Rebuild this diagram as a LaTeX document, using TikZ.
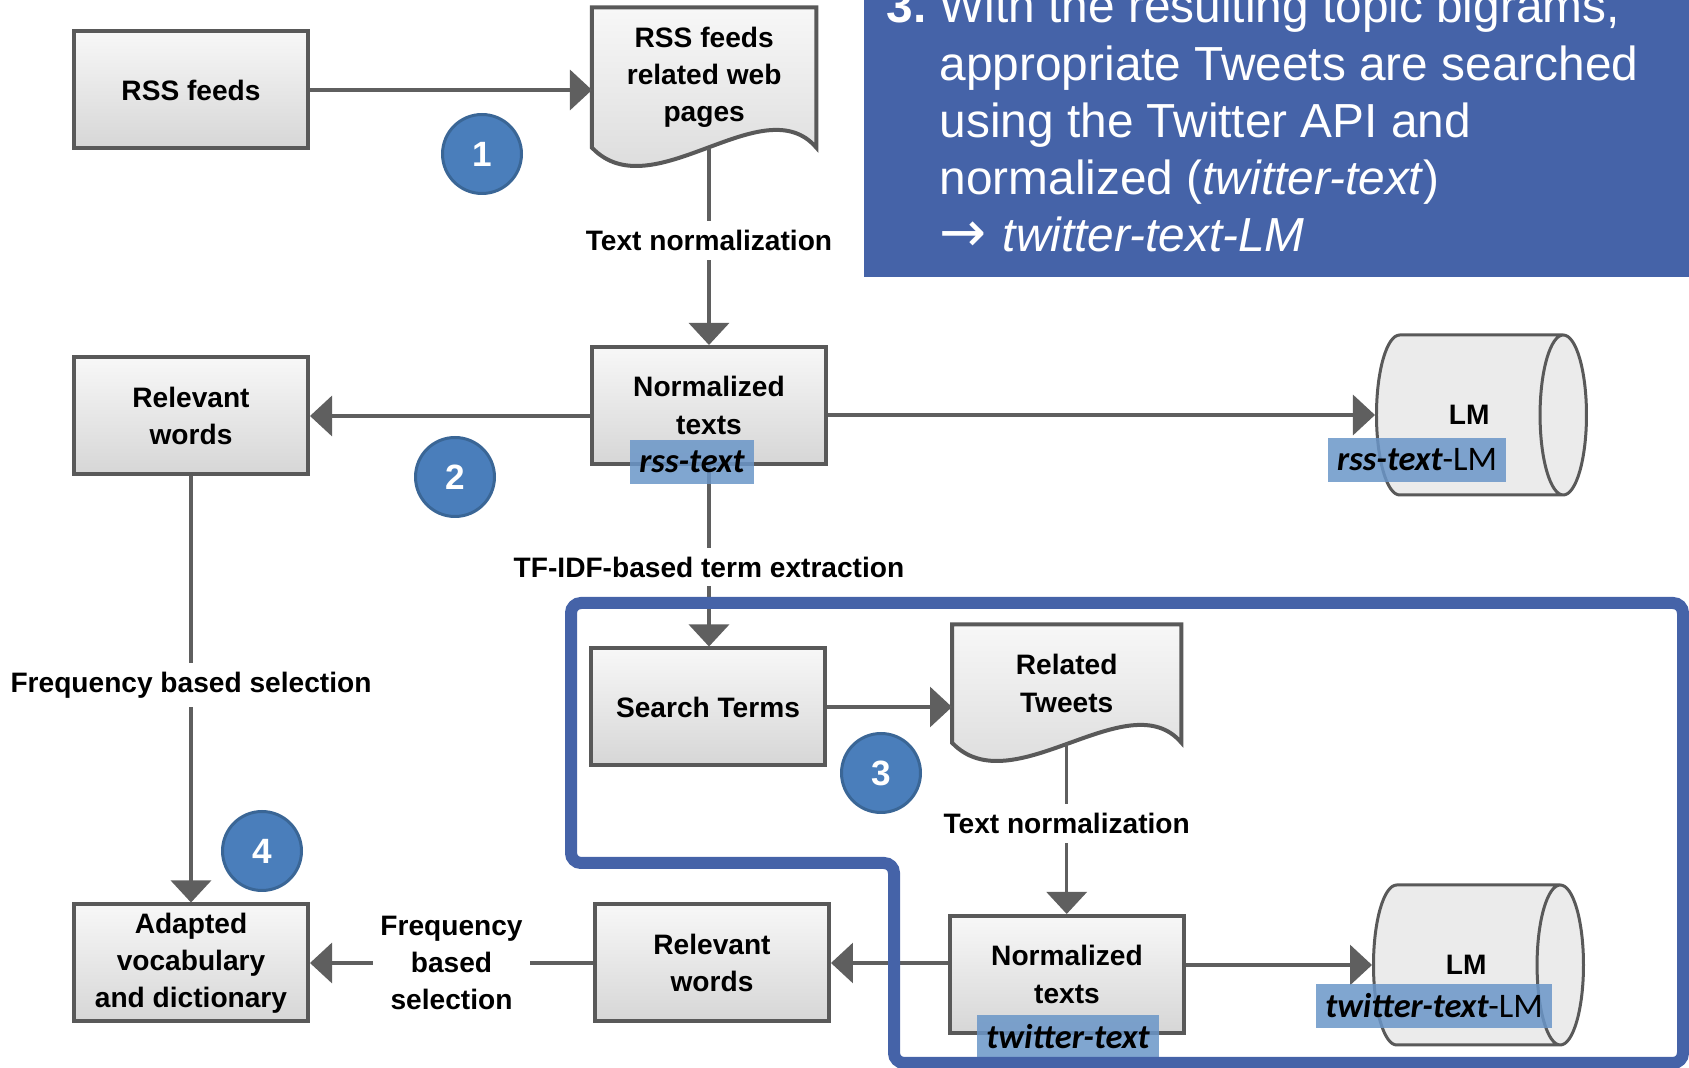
\documentclass[tikz,border=0pt]{standalone}
\usepackage{fontspec}
\setmainfont{Liberation Sans}
\newfontfamily\tagfont{Carlito}
\newfontfamily\arrowfont{DejaVu Sans}
\usetikzlibrary{positioning, shapes.geometric, arrows.meta, backgrounds}

\definecolor{boxline}{HTML}{595959}
\definecolor{flowgray}{HTML}{5F5F5F}
\definecolor{stepblue}{HTML}{4A7EBB}
\definecolor{stepedge}{HTML}{3A6696}
\definecolor{tagblue}{HTML}{6A96C8}
\definecolor{infoblue}{HTML}{4563A8}

\begin{document}
\begin{tikzpicture}[
  x=0.1mm, y=-0.1mm,
  font=\fontsize{8}{10.6}\selectfont\bfseries,
  proc/.style    ={rectangle, draw=boxline, line width=0.4mm,
                   top color=black!3, bottom color=black!16,
                   minimum width=23.4mm, minimum height=11.7mm,
                   inner sep=0pt, align=center},
  docu/.style    ={rectangle, inner sep=0pt, align=center},
  store/.style   ={cylinder, draw=boxline, line width=0.3mm, fill=black!8,
                   aspect=2.4, minimum width=16mm, minimum height=21mm,
                   inner sep=0pt},
  flow/.style    ={-{Triangle[length=2.2mm, width=4mm]}, flowgray, line width=0.33mm},
  lbl/.style     ={fill=white, text=black, inner xsep=0.7mm, inner ysep=0.9mm, align=center},
  numcirc/.style ={circle, fill=stepblue, draw=stepedge, line width=0.3mm,
                   minimum size=7.9mm, inner sep=0pt, text=white,
                   font=\fontsize{10}{12}\selectfont\bfseries},
  tag/.style     ={fill=tagblue, fill opacity=0.85, text opacity=1, text=black,
                   inner xsep=0.9mm, inner ysep=0pt, minimum height=4.4mm,
                   font=\fontsize{9.8}{11}\selectfont\tagfont},
  infotext/.style={text=white, align=left, inner sep=0pt,
                   font=\fontsize{13.6}{16.3}\selectfont}
]
\useasboundingbox (0,0) rectangle (1689,1068);
\clip (0,0) rectangle (1689,1068);

% ---------- note in the corner ----------
\fill[infoblue] (864,-10) rectangle (1700,277);
\node[infotext, anchor=base west] (info) at (939,252)
  {\llap{\textbf{3.}\hspace{1.3mm}}With the resulting topic bigrams,\\
   appropriate Tweets are searched\\
   using the Twitter API and\\
   normalized (\textit{twitter-text})\\
   {\arrowfont\fontsize{16}{16}\selectfont →}\hspace{1.6mm}\textit{twitter-text-LM}};

% ---------- RSS side ----------
\node[proc] (rss) at (191,90) {RSS feeds};
\node[docu, minimum width=22.3mm, minimum height=13.9mm,
      right=28.2mm of rss, yshift=1.25mm] (rssdoc) {RSS feeds\\related web\\pages};
\node[proc] (relA) at (191,416) {Relevant\\words};
\node[proc, right=28mm of relA, yshift=1.05mm] (normA) {Normalized\\texts};
\node[store, right=54.7mm of normA, yshift=-0.95mm] (lmA) {LM};

% ---------- Twitter side ----------
\node[proc] (searchT) at (708,707) {Search Terms};
\node[docu, minimum width=22.8mm, minimum height=11.7mm,
      right=12.5mm of searchT, yshift=2.35mm] (twdoc) {Related\\Tweets};
\node[proc] (normB) at (1067,974.5) {Normalized\\texts};
\node[store, right=18.6mm of normB, yshift=0.95mm] (lmB) {LM};
\node[proc] (adapt) at (191,963) {Adapted\\vocabulary\\and dictionary};
\node[proc, right=28.3mm of adapt] (relB) {Relevant\\words};

% ---------- document outlines ----------
\begin{scope}[on background layer]
  \foreach \d in {rssdoc, twdoc}
    \draw[boxline, line width=0.4mm, top color=black!3, bottom color=black!16]
      (\d.south west) -- (\d.north west) -- (\d.north east) -- (\d.south east)
      .. controls +(-53,-62) and +(60,63) .. (\d.south west) -- cycle;
\end{scope}

% ---------- Arrows ----------
\draw[flow] (rss.east) -- (rss.east -| rssdoc.west);
\draw[flow] (normA.north |- rssdoc.south) -- node[lbl, pos=0.47]{Text normalization} (normA.north);
\draw[flow] (normA.west |- relA.east) -- (relA.east);
\draw[flow] (normA.east |- lmA.west) -- (lmA.west);
\draw[flow] (normA.south) -- node[lbl, pos=0.56]{TF-IDF-based term extraction} (normA.south |- searchT.north);
\draw[flow] (relA.south) -- node[lbl, pos=0.49]{Frequency based selection} (adapt.north);

\draw[flow] (searchT.east) -- (searchT.east -| twdoc.west);
\draw[flow] (twdoc.south) -- node[lbl, pos=0.47]{Text normalization} (twdoc.south |- normB.north);
\draw[flow] (normB.east |- lmB.west) -- (lmB.west);
\draw[flow] (normB.west |- relB.east) -- (relB.east);
\draw[flow] (relB.west) -- node[lbl]{Frequency\\based\\selection} (adapt.east);

% ---------- name tags ----------
\node[tag] (rsstag)   at ([shift={(-17,-4)}]normA.south) {\bfseries\itshape rss-text};
\node[tag] (rsslmtag) at ([shift={(-52,45)}]lmA.center)  {{\bfseries\itshape rss-text}-LM};
\node[tag] (twtag)    at ([shift={(1,2)}]normB.south)     {\bfseries\itshape twitter-text};
\node[tag] (twlmtag)  at ([shift={(-32,41)}]lmB.center)   {{\bfseries\itshape twitter-text}-LM};

% ---------- step numbers ----------
\node[numcirc] (n1) at (482,154) {1};
\node[numcirc] (n2) at (455,477) {2};
\node[numcirc] (n3) at (881,773) {3};
\node[numcirc] (n4) at (262,851) {4};

% ---------- Twitter part frame ----------
\draw[infoblue, line width=1.2mm, rounded corners=1mm]
  (571,603) -- (1683,603) -- (1683,1063) -- (894,1063) -- (894,863) -- (571,863) -- cycle;

\end{tikzpicture}
\end{document}
